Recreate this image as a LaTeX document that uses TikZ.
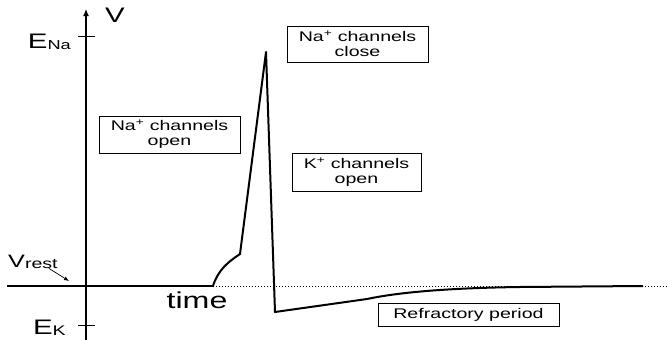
\documentclass[tikz,border=0pt]{standalone}
\usepackage{fontspec}
\newfontfamily\widesf{Liberation Sans}[FakeStretch=1.4]
\usetikzlibrary{arrows.meta}

\tikzset{
  chanbox/.style={draw, line width=0.8pt, align=center, inner sep=0pt,
    font=\widesf\fontsize{14}{15}\selectfont},
  trace/.style={line width=2pt, line join=round},
  tickmark/.style={line width=0.9pt},
}

\begin{document}
\begin{tikzpicture}[x=1pt, y=-1pt, >={Latex[length=7pt,width=6pt]}, font=\widesf]
    \useasboundingbox (0,0) rectangle (667,340);

    % Axis
    \coordinate (orig) at (86,340);
    \coordinate (vtop) at (86,9);
    \draw[->, line width=1.1pt] (orig) -- (vtop);
    \node (vlab) at (115,15) {\fontsize{21}{21}\selectfont V};

    % Reversal potentials
    \coordinate (ena) at (86,36);
    \coordinate (ek) at (86,325);
    \draw[tickmark] ([xshift=-8pt]ena) -- ([xshift=9pt]ena);
    \draw[tickmark] ([xshift=-8pt]ek) -- ([xshift=9pt]ek);
    \node[anchor=base east, inner sep=0pt] (enalab) at (71,48)
        {\fontsize{21}{21}\selectfont E\raisebox{-1.5pt}{\fontsize{13}{13}\selectfont Na}};
    \node[anchor=base east, inner sep=0pt] (eklab) at (66,334)
        {\fontsize{21}{21}\selectfont E\raisebox{-1pt}{\fontsize{14}{14}\selectfont K}};

    % Resting level
    \coordinate (rest0) at (7,286);
    \coordinate (rest1) at (213,286);
    \coordinate (rest2) at (667,286);
    \draw[line width=1.6pt] (rest0) -- (rest1);
    \draw[line width=0.7pt, dash pattern=on 1pt off 2pt] (rest1) -- (rest2);
    \node[anchor=base west, inner sep=0pt] (vrest) at (8,267)
        {\fontsize{18}{18}\selectfont V\raisebox{-1pt}{\fontsize{14}{14}\selectfont rest}};
    \coordinate (restpt) at (69,281);
    \draw[->, line width=0.7pt, >={Latex[length=5pt,width=4pt]}] ([xshift=-9pt]vrest.south east) -- (restpt);
    \node (timelab) at (197,300) {\fontsize{23}{23}\selectfont time};

    % Action potential
    \draw[trace] (rest1) .. controls (218,270) and (228,262) .. (240,254)
        -- (266,52) -- (275,312) -- (367,299)
        .. controls (400,292) and (450,288) .. (520,287) -- (643,286);

    % Channel boxes
    \node[chanbox, minimum width=141pt, minimum height=37pt] (naopen) at (169.5,134.5)
        {Na\textsuperscript{+} channels\\open};
    \node[chanbox, minimum width=141pt, minimum height=36pt] (naclose) at (357.5,44)
        {Na\textsuperscript{+} channels\\close};
    \node[chanbox, minimum width=129pt, minimum height=38pt] (kopen) at (356.5,172)
        {K\textsuperscript{+} channels\\open};
    \node[chanbox, minimum width=181pt, minimum height=23pt] (refrac) at (468.5,314.5)
        {Refractory period};
\end{tikzpicture}
\end{document}
